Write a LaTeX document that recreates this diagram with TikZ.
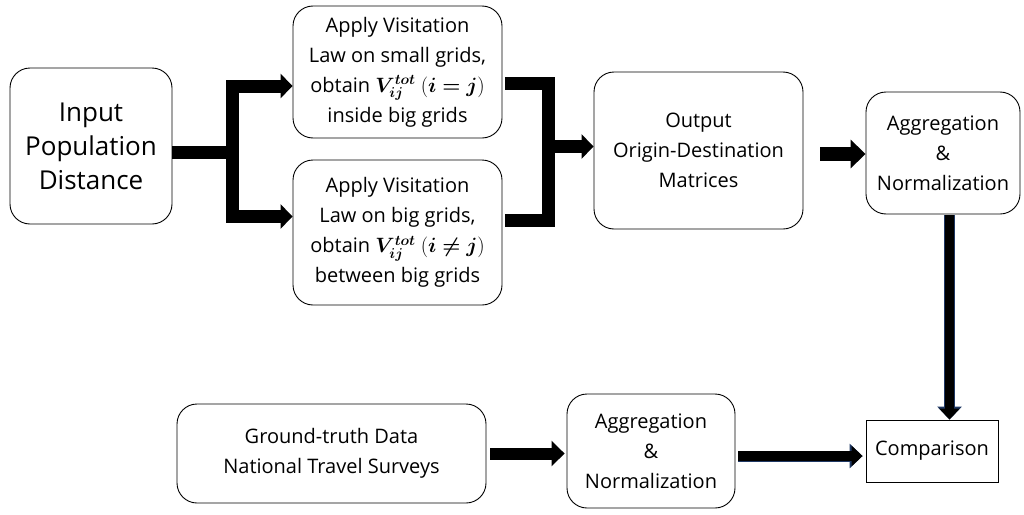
\documentclass[tikz,border=0pt]{standalone}
\usepackage{amsmath}
\usepackage{bm}
\usepackage{fontspec}
\setmainfont{Open Sans}
\usepackage{tikz}
\usetikzlibrary{arrows.meta,positioning}
\definecolor{navyline}{RGB}{31,56,100}

\begin{document}
\begin{tikzpicture}[
    x=1pt, y=-1pt,
    box/.style={draw, line width=0.9pt, rounded corners=20pt, align=center, inner sep=2pt,
        font=\fontsize{20}{30}\selectfont},
    plainbox/.style={draw, line width=0.9pt, align=center, font=\fontsize{20}{30}\selectfont},
    fat/.style={line width=13pt, line join=miter},
    tip/.style={-{Triangle[length=12pt,width=24pt]}},
    navyarrow/.style={line width=9pt, -{Triangle[length=11pt,width=20pt]},
        preaction={draw=navyline, line width=11pt, -{Triangle[length=13pt,width=24pt]}}}
]
    \useasboundingbox (0,0) rectangle (1024,514);

    \node[box, minimum width=162pt, minimum height=156pt, font=\fontsize{26}{34}\selectfont]
        (inp) at (91,146) {Input\\Population\\Distance};
    \node[box, minimum width=209pt, minimum height=132pt] (top) at (397.5,72)
        {Apply Visitation\\Law on small grids,\\obtain $\bm{V}_{\bm{ij}}^{\bm{tot}}\ (\bm{i=j})$\\inside big grids};
    \node[box, minimum width=209pt, minimum height=145pt] (bot) at (397.5,232.5)
        {Apply Visitation\\Law on big grids,\\obtain $\bm{V}_{\bm{ij}}^{\bm{tot}}\ (\bm{i\neq j})$\\between big grids};
    \node[box, minimum width=209pt, minimum height=157pt] (out) at (698.5,150.5)
        {Output\\Origin-Destination\\Matrices};
    \node[box, minimum width=154pt, minimum height=122pt] (agga) at (943,153)
        {Aggregation\\\&\\Normalization};
    \node[box, minimum width=309pt, minimum height=99pt] (gt) at (331.5,453.5)
        {Ground-truth Data\\National Travel Surveys};
    \node[box, minimum width=168pt, minimum height=114pt] (aggb) at (651,451)
        {Aggregation\\\&\\Normalization};
    \node[plainbox, minimum width=132pt, minimum height=62pt] (cmp) at (932,451) {Comparison};

    % split into the two grid steps
    \coordinate (jl) at (232,152.5);
    \draw[fat] ([yshift=-6.5pt]inp.east) -- (jl);
    \draw[fat, tip] (jl) |- ([yshift=-14pt]top.west);
    \draw[fat, tip] (jl) |- ([yshift=16pt]bot.west);

    % merge into the output
    \coordinate (jr) at (548.5,146.5);
    \draw[fat] ([xshift=3pt, yshift=-11.5pt]top.east) -| (jr) |- ([xshift=3pt, yshift=12pt]bot.east);
    \draw[fat, tip] (jr) -- (jr -| out.west);

    \draw[line width=14pt, -{Triangle[length=15pt,width=28pt]}]
        ([xshift=17pt, yshift=-3.5pt]out.east) -- ([yshift=-3.5pt]out.east -| agga.west);
    \draw[navyarrow] ([xshift=6.5pt, yshift=-1pt]agga.south) -- ([xshift=6.5pt]agga.south |- cmp.north);

    \draw[line width=12pt, -{Triangle[length=13pt,width=25pt]}]
        ([xshift=4pt]gt.east) -- ([xshift=-2pt]gt.east -| aggb.west);
    \draw[navyarrow, line width=10pt] ([xshift=3pt, yshift=-5pt]aggb.east) -- ([xshift=-3pt, yshift=-5pt]cmp.west);
\end{tikzpicture}
\end{document}
